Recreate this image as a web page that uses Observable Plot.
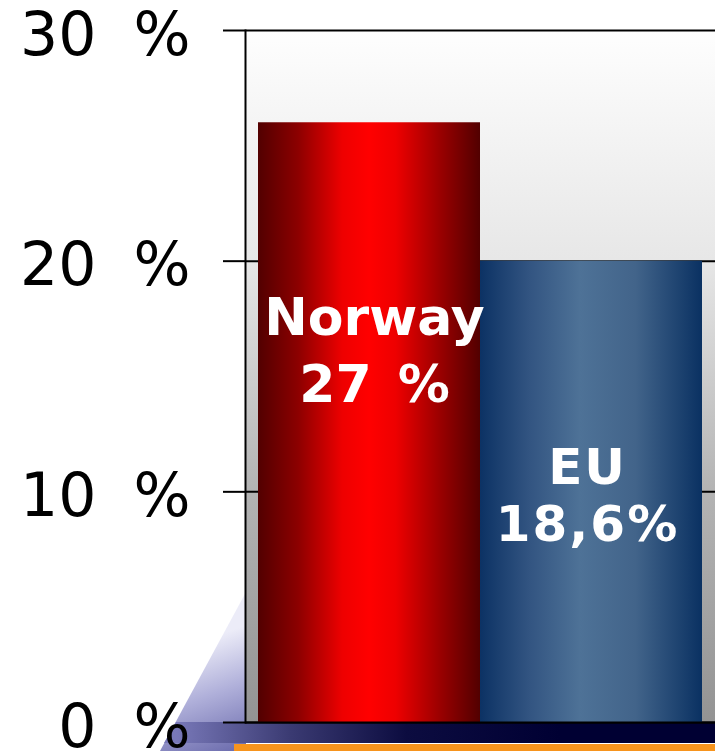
<!DOCTYPE html>
<html><head><meta charset="utf-8">
<script src="https://cdn.jsdelivr.net/npm/d3@7"></script>
<script src="https://cdn.jsdelivr.net/npm/@observablehq/plot@0.6"></script>
<style>
html,body{margin:0;padding:0;background:#fff;}
#chart svg{display:block;}
</style></head><body><div id="chart"></div>
<script>
// Data
const categories = ["Norway", "EU"];
const shares = [26, 20];                 // bar heights as drawn (%)
const labelNames = ["Norway", "EU"];
const labelValues = ["27 %", "18,6%"];  // printed labels
const yTicks = [0, 10, 20, 30];
const gradientIds = ["gradNorway", "gradEU"];

const data = categories.map((c, i) => ({
  category: c,
  share: shares[i],
  label: labelNames[i] + "\n" + labelValues[i],
  fill: `url(#${gradientIds[i]})`
}));

const chart = Plot.plot({
  width: 715, height: 751,
  marginLeft: 245, marginRight: 0, marginTop: 30, marginBottom: 29,
  style: {background: "transparent", fontFamily: "'DejaVu Sans', Verdana, sans-serif", overflow: "visible", color: "#000"},
  x: {domain: categories, padding: 0, insetLeft: 12, insetRight: 13, axis: null},
  y: {domain: [0, 30], axis: null},
  color: {type: "identity"},
  marks: [
    Plot.frame({fill: "url(#gradWall)", stroke: "none"}),
    Plot.gridY(yTicks, {stroke: "#000", strokeOpacity: 1, strokeWidth: 2}),
    Plot.barY(data, {x: "category", y: "share", fill: "fill"}),
    Plot.ruleY([0], {stroke: "#000", strokeWidth: 2}),
    Plot.frame({anchor: "left", stroke: "#000", strokeWidth: 2}),
    Plot.axisY(yTicks, {
      anchor: "left", label: null, tickSize: 22, tickPadding: 33, stroke: "#000", strokeWidth: 2,
      tickFormat: d => `${d} %`, fontSize: 60, fill: "#000"
    }),
    Plot.text(data.slice(0, 1), {
      x: "category", y: "share", text: "label", fill: "#fff", fontSize: 52, fontWeight: "bold",
      lineHeight: 1.29, lineAnchor: "middle", dx: 5, dy: 224
    }),
    Plot.text(data.slice(1), {
      x: "category", y: "share", text: "label", fill: "#fff", fontSize: 50, fontWeight: "bold",
      lineHeight: 1.14, lineAnchor: "middle", dx: -4, dy: 233
    })
  ]
});

const svg = d3.select(chart);
const defs = svg.insert("defs", ":first-child");
defs.html(`
  <linearGradient id="gradWall" x1="0" y1="0" x2="0" y2="1">
    <stop offset="0" stop-color="#fefefe"/>
    <stop offset="0.33" stop-color="#e7e7e7"/>
    <stop offset="0.66" stop-color="#b4b4b4"/>
    <stop offset="1" stop-color="#939393"/>
  </linearGradient>
  <linearGradient id="gradNorway" x1="0" y1="0" x2="1" y2="0">
    <stop offset="0" stop-color="#520000"/>
    <stop offset="0.18" stop-color="#8c0000"/>
    <stop offset="0.38" stop-color="#ee0000"/>
    <stop offset="0.5" stop-color="#ff0000"/>
    <stop offset="0.62" stop-color="#ee0000"/>
    <stop offset="0.82" stop-color="#9a0000"/>
    <stop offset="1" stop-color="#520000"/>
  </linearGradient>
  <linearGradient id="gradEU" x1="0" y1="0" x2="1" y2="0">
    <stop offset="0" stop-color="#0c3264"/>
    <stop offset="0.22" stop-color="#325481"/>
    <stop offset="0.45" stop-color="#4e7297"/>
    <stop offset="0.7" stop-color="#42648a"/>
    <stop offset="1" stop-color="#0a3162"/>
  </linearGradient>
  <linearGradient id="gradWedge" gradientUnits="userSpaceOnUse" x1="205" y1="640" x2="245" y2="751">
    <stop offset="0" stop-color="#ececf8"/>
    <stop offset="0.45" stop-color="#b0b0da"/>
    <stop offset="1" stop-color="#6a6aac"/>
  </linearGradient>
  <linearGradient id="gradBand" gradientUnits="userSpaceOnUse" x1="176" y1="0" x2="560" y2="0">
    <stop offset="0" stop-color="#7878b8"/>
    <stop offset="0.3" stop-color="#3a3a72"/>
    <stop offset="0.6" stop-color="#0c0c40"/>
    <stop offset="1" stop-color="#000033"/>
  </linearGradient>
`);
// Decorative background shapes (not data)
const deco = d3.create("svg:g");
deco.append("polygon").attr("points", "246,592 246,751 160,751").attr("fill", "url(#gradWedge)");
deco.append("polygon").attr("points", "176,722 715,722 715,743 164,743").attr("fill", "url(#gradBand)");
deco.append("rect").attr("x", 234).attr("y", 744).attr("width", 481).attr("height", 7).attr("fill", "#f7941d");
chart.insertBefore(deco.node(), defs.node().nextSibling);

// shift tick labels (not tick marks) a little downward, widen the gap before "%"
svg.selectAll('g[aria-label="y-axis tick label"] text').each(function() {
  const t = d3.select(this);
  const tr = t.attr("transform");
  if (tr) t.attr("transform", tr + " translate(0,5)");
  else t.attr("y", (+t.attr("y") || 0) + 5);
}).style("word-spacing", "18px");
svg.selectAll('g[aria-label="text"]').filter((d, i) => i === 1).selectAll("text").style("letter-spacing", "2px");
svg.selectAll('g[aria-label="text"]').filter((d, i) => i === 0).selectAll("text").style("word-spacing", "8px");

document.getElementById("chart").appendChild(chart);
</script>
</body></html>
